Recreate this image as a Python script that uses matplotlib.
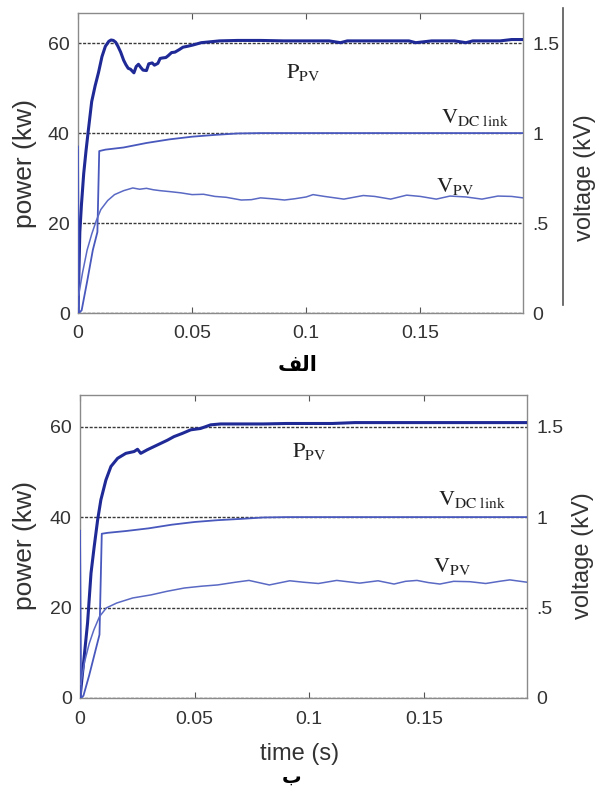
import matplotlib
matplotlib.use("Agg")
import matplotlib.pyplot as plt
from matplotlib.lines import Line2D

plt.rcParams['font.family'] = ['Liberation Sans', 'DejaVu Sans']
plt.rcParams['mathtext.fontset'] = 'stix'

# ---- panel (a) : top ----
a_t_p = [0, 0.0008, 0.0015, 0.0025, 0.0035, 0.0045, 0.006, 0.0075, 0.009, 0.0105,
         0.012, 0.0135, 0.0145, 0.0155, 0.0165, 0.0175, 0.0187, 0.020, 0.021, 0.022,
         0.023, 0.0245, 0.0255, 0.0265, 0.0275, 0.0285, 0.030, 0.031, 0.0325, 0.0335,
         0.035, 0.036, 0.037, 0.0385, 0.0395, 0.041, 0.0425, 0.0445, 0.046, 0.048,
         0.0505, 0.054, 0.058, 0.062, 0.070, 0.080, 0.090, 0.100, 0.110, 0.115,
         0.118, 0.125, 0.135, 0.145, 0.148, 0.155, 0.165, 0.170, 0.173, 0.180,
         0.185, 0.190, 0.195]
a_p = [0, 18, 24, 31, 36, 40.5, 47, 50.5, 53.5, 57,
       59.3, 60.4, 60.7, 60.6, 60.2, 59.3, 58, 56.2, 55.2, 54.4,
       54.2, 53.4, 54.8, 55.3, 54.6, 54.0, 53.9, 55.4, 55.6, 55.1,
       55.5, 56.6, 56.7, 56.8, 57.2, 57.9, 58.0, 58.6, 59.1, 59.3,
       59.6, 60.1, 60.3, 60.5, 60.6, 60.6, 60.5, 60.5, 60.5, 60.1,
       60.5, 60.5, 60.5, 60.5, 60.1, 60.5, 60.5, 60.1, 60.5, 60.5,
       60.5, 60.8, 60.8]
a_t_vdc = [0, 0.0004, 0.0016, 0.004, 0.0065, 0.0085, 0.0093, 0.012, 0.02, 0.03,
           0.04, 0.05, 0.06, 0.07, 0.08, 0.195]
a_vdc = [0.925, 0, 0.015, 0.175, 0.35, 0.45, 0.9, 0.908, 0.92, 0.945,
         0.965, 0.98, 0.99, 0.998, 1.0, 1.0]
a_t_vpv = [0.0003, 0.002, 0.004, 0.006, 0.008, 0.010, 0.013, 0.016, 0.02, 0.024,
           0.027, 0.030, 0.033, 0.036, 0.040, 0.045, 0.050, 0.055, 0.060, 0.065,
           0.0715, 0.076, 0.080, 0.085, 0.0905, 0.095, 0.100, 0.103, 0.108, 0.1165,
           0.125, 0.130, 0.137, 0.144, 0.150, 0.157, 0.163, 0.170, 0.177, 0.184,
           0.190, 0.195]
a_vpv = [0.1, 0.225, 0.35, 0.438, 0.513, 0.575, 0.625, 0.658, 0.68, 0.695,
         0.688, 0.693, 0.685, 0.68, 0.675, 0.668, 0.658, 0.66, 0.648, 0.643,
         0.628, 0.63, 0.64, 0.635, 0.628, 0.635, 0.645, 0.658, 0.648, 0.633,
         0.653, 0.648, 0.633, 0.655, 0.648, 0.633, 0.65, 0.645, 0.633, 0.65,
         0.648, 0.64]

# ---- panel (b) : bottom ----
b_t_p = [0, 0.001, 0.002, 0.0033, 0.0048, 0.0062, 0.0077, 0.0091, 0.0113, 0.0135,
         0.0164, 0.020, 0.0236, 0.0251, 0.0265, 0.0294, 0.0323, 0.0352, 0.0381, 0.041,
         0.0446, 0.0483, 0.0526, 0.057, 0.0613, 0.07, 0.08, 0.09, 0.10, 0.11,
         0.12, 0.13, 0.14, 0.15, 0.16, 0.17, 0.18, 0.19, 0.195]
b_p = [0, 5, 10, 16.6, 27.6, 33.5, 39.4, 43.8, 48.2, 51.2,
       53, 54.1, 54.5, 55, 54.1, 54.9, 55.6, 56.3, 57, 57.8,
       58.5, 59.3, 59.6, 60.4, 60.6, 60.6, 60.6, 60.7, 60.7, 60.7,
       60.9, 60.9, 60.9, 60.9, 60.9, 60.9, 60.9, 60.9, 60.9]
b_t_vdc = [0, 0.0005, 0.0015, 0.004, 0.0065, 0.0085, 0.0095, 0.012, 0.02, 0.03,
           0.04, 0.05, 0.06, 0.07, 0.08, 0.09, 0.195]
b_vdc = [0.925, 0, 0.0125, 0.125, 0.25, 0.35, 0.908, 0.913, 0.923, 0.938,
         0.958, 0.973, 0.983, 0.99, 0.998, 1.0, 1.0]
b_t_vpv = [0.0003, 0.002, 0.004, 0.006, 0.0085, 0.0115, 0.016, 0.023, 0.031, 0.038,
           0.0455, 0.053, 0.060, 0.0678, 0.0737, 0.0826, 0.0915, 0.0975, 0.104, 0.112,
           0.122, 0.130, 0.137, 0.142, 0.147, 0.152, 0.157, 0.163, 0.170, 0.177,
           0.183, 0.1875, 0.195]
b_vpv = [0.075, 0.2, 0.3, 0.375, 0.45, 0.498, 0.525, 0.553, 0.57, 0.59,
         0.608, 0.618, 0.625, 0.64, 0.65, 0.625, 0.648, 0.64, 0.633, 0.65,
         0.635, 0.648, 0.63, 0.645, 0.65, 0.638, 0.63, 0.645, 0.643, 0.633,
         0.645, 0.653, 0.64]

x_ticks = [0, 0.05, 0.1, 0.15]
x_labels = ['0', '0.05', '0.1', '0.15']
p_ticks = [0, 20, 40, 60]
v_ticks = [0, 0.5, 1, 1.5]
v_labels = ['0', '.5', '1', '1.5']

W, H = 598, 788
SPINE = '#8a8a8a'
TXT = '#333333'


def fx(px):
    return px / W


def fy(py):
    return 1 - py / H


def draw_panel(rect, ytop, t_p, p, t_vdc, vdc, t_vpv, vpv, lbl):
    ax = fig.add_axes(rect)
    ax.set_xlim(0, 0.195)
    ax.set_ylim(0, ytop)
    for yv in p_ticks:
        ax.axhline(yv, color='#3a3a3a', lw=1.0, ls=(0, (2.2, 1.1)), zorder=1)
    ax.plot(t_p, p, color='#1f2a96', lw=2.2, zorder=4)
    ax.set_xticks(x_ticks)
    ax.set_xticklabels(x_labels)
    ax.set_yticks(p_ticks)
    ax.tick_params(axis='x', direction='in', length=4, top=True, color='#555555',
                   labelsize=14, labelcolor=TXT, pad=9)
    ax.tick_params(axis='y', length=0, labelsize=14, labelcolor=TXT, pad=6)
    for s in ax.spines.values():
        s.set_color(SPINE)
        s.set_linewidth(1.0)

    ax2 = ax.twinx()
    ax2.set_ylim(0, ytop / 40)
    ax2.plot(t_vdc, vdc, color='#4858bd', lw=1.3, zorder=3)
    ax2.plot(t_vpv, vpv, color='#5a69c4', lw=1.1, zorder=3)
    ax2.set_yticks(v_ticks)
    ax2.set_yticklabels(v_labels)
    ax2.tick_params(axis='y', length=0, labelsize=14, labelcolor=TXT, pad=7)
    for s in ax2.spines.values():
        s.set_visible(False)

    # curve names
    ax.text(lbl[0][0], lbl[0][1], r'$\mathrm{P_{PV}}$', fontsize=16, color='#222222')
    ax.text(lbl[1][0], lbl[1][1], r'$\mathrm{V_{DC\ link}}$', fontsize=16, color='#222222')
    ax.text(lbl[2][0], lbl[2][1], r'$\mathrm{V_{PV}}$', fontsize=16, color='#222222')
    return ax, ax2


fig = plt.figure(figsize=(W / 100, H / 100), dpi=100)

top_rect = [fx(78), fy(313), fx(523) - fx(78), fy(13) - fy(313)]
bot_rect = [fx(80), fy(698), fx(527) - fx(80), fy(395) - fy(698)]

draw_panel(top_rect, 66.7, a_t_p, a_p, a_t_vdc, a_vdc, a_t_vpv, a_vpv,
           [(0.091, 52.2), (0.159, 42.3), (0.157, 27.0)])
draw_panel(bot_rect, 67.0, b_t_p, b_p, b_t_vdc, b_vdc, b_t_vpv, b_vpv,
           [(0.0926, 53.3), (0.156, 42.7), (0.154, 27.9)])

# axis titles
fig.text(fx(25), fy(163), 'power (kw)', rotation=90, ha='center', va='center',
         fontsize=19, color=TXT)
fig.text(fx(585), fy(178), 'voltage (kV)', rotation=90, ha='center', va='center',
         fontsize=17, color=TXT)
fig.text(fx(25), fy(545), 'power (kw)', rotation=90, ha='center', va='center',
         fontsize=19, color=TXT)
fig.text(fx(583), fy(556), 'voltage (kV)', rotation=90, ha='center', va='center',
         fontsize=17, color=TXT)
fig.text(fx(300), fy(754), 'time (s)', ha='center', va='center', fontsize=17, color=TXT)

# extra voltage axis line on the top panel
fig.add_artist(Line2D([fx(563), fx(563)], [fy(8), fy(305)], color='#555555', lw=1.2))

# panel captions (Arabic, presentation forms so glyphs join)
fig.text(fx(298), fy(365), '\uFED2\uFEDF\uFE8D', ha='center', va='center',
         fontsize=15, fontweight='bold', family=['DejaVu Sans'])
fig.text(fx(292), fy(787), '\uFE8F', ha='center', va='bottom',
         fontsize=14, fontweight='bold', family=['DejaVu Sans'])

fig.savefig('out.png', dpi=100)
